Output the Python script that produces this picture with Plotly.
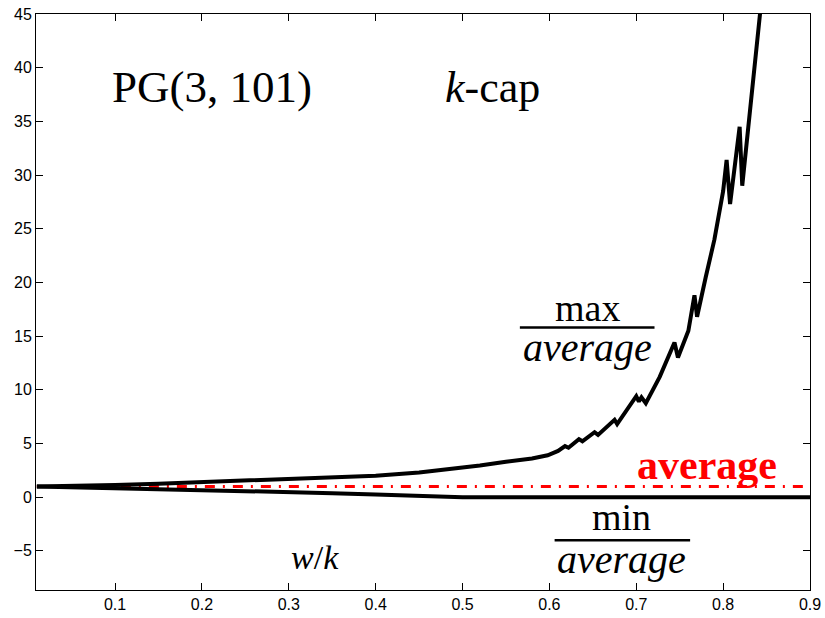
import plotly.graph_objects as go

# data
max_x = [0.01, 0.05, 0.10, 0.15, 0.20, 0.25, 0.30, 0.35, 0.40, 0.45, 0.50, 0.52, 0.55, 0.58,
         0.598, 0.61, 0.618, 0.622, 0.634, 0.638, 0.652, 0.656, 0.675, 0.678, 0.700, 0.703,
         0.706, 0.711, 0.727, 0.744, 0.748, 0.76, 0.767, 0.770, 0.78, 0.79, 0.80, 0.804, 0.808,
         0.815, 0.819, 0.822, 0.83, 0.838, 0.845]
max_y = [1.0, 1.02, 1.12, 1.25, 1.4, 1.52, 1.68, 1.82, 2.0, 2.3, 2.75, 2.95, 3.3, 3.6,
         3.9, 4.3, 4.75, 4.6, 5.4, 5.2, 6.05, 5.8, 7.2, 6.8, 9.4, 8.9,
         9.3, 8.75, 11.2, 14.4, 13.0, 15.5, 18.8, 16.8, 20.5, 24.0, 28.5, 31.4, 27.3,
         31.5, 34.5, 29.0, 35.5, 41.5, 47.0]

min_x = [0.01, 0.10, 0.20, 0.30, 0.35, 0.40, 0.45, 0.48, 0.50, 0.90]
min_y = [1.0, 0.85, 0.65, 0.45, 0.37, 0.25, 0.1, 0.02, 0.0, 0.0]

avg_x = [0.01, 0.90]
avg_y = [1.0, 1.0]

x_ticks = [0.1, 0.2, 0.3, 0.4, 0.5, 0.6, 0.7, 0.8, 0.9]
y_ticks = [-5, 0, 5, 10, 15, 20, 25, 30, 35, 40, 45]

fig = go.Figure()
fig.add_trace(go.Scatter(x=avg_x, y=avg_y, mode="lines",
                         line=dict(color="#ff0000", width=3, dash="10px,8px,2px,8px")))
fig.add_trace(go.Scatter(x=min_x, y=min_y, mode="lines", line=dict(color="black", width=4)))
fig.add_trace(go.Scatter(x=max_x, y=max_y, mode="lines", line=dict(color="black", width=4)))

serif = "Liberation Serif"
ann = [
    dict(x=0.2116, y=38.2, text="PG(3, 101)", font=dict(family=serif, size=45, color="black")),
    dict(x=0.534, y=38.2, text="<i>k</i>-cap", font=dict(family=serif, size=44, color="black")),
    dict(x=0.644, y=17.6, text="max", font=dict(family=serif, size=38, color="black")),
    dict(x=0.644, y=13.9, text="<i>average</i>", font=dict(family=serif, size=40, color="black")),
    dict(x=0.683, y=-1.85, text="min", font=dict(family=serif, size=38, color="black")),
    dict(x=0.683, y=-5.8, text="<i>average</i>", font=dict(family=serif, size=40, color="black")),
    dict(x=0.33, y=-5.6, text="<i>w</i>/<i>k</i>", font=dict(family=serif, size=34, color="black")),
    dict(x=0.782, y=2.95, text="<b>average</b>", font=dict(family=serif, size=42, color="#ff0000")),
]
for a in ann:
    a.update(xref="x", yref="y", showarrow=False)

axis_common = dict(showgrid=False, zeroline=False, showline=True, linecolor="black", linewidth=1,
                   mirror="allticks", ticks="inside", ticklen=7, tickcolor="black",
                   automargin=False,
                   tickfont=dict(family="Liberation Sans", size=16, color="black"))

fig.update_layout(
    width=825, height=618,
    margin=dict(l=36, r=15, t=14, b=28),
    paper_bgcolor="white", plot_bgcolor="white",
    showlegend=False,
    annotations=ann,
    shapes=[
        dict(type="line", xref="x", yref="y", x0=0.566, x1=0.721, y0=15.8, y1=15.8,
             line=dict(color="black", width=2.5)),
        dict(type="line", xref="x", yref="y", x0=0.606, x1=0.762, y0=-4.02, y1=-4.02,
             line=dict(color="black", width=2.5)),
    ],
    xaxis=dict(range=[0.009, 0.9], tickvals=x_ticks, ticktext=[str(v) for v in x_ticks],
               **axis_common),
    yaxis=dict(range=[-8.65, 45], tickvals=y_ticks, **axis_common),
)

fig.write_html("out.html",
               config={"displayModeBar": False},
               post_script="document.body.style.margin='0';document.body.style.overflow='hidden';")
